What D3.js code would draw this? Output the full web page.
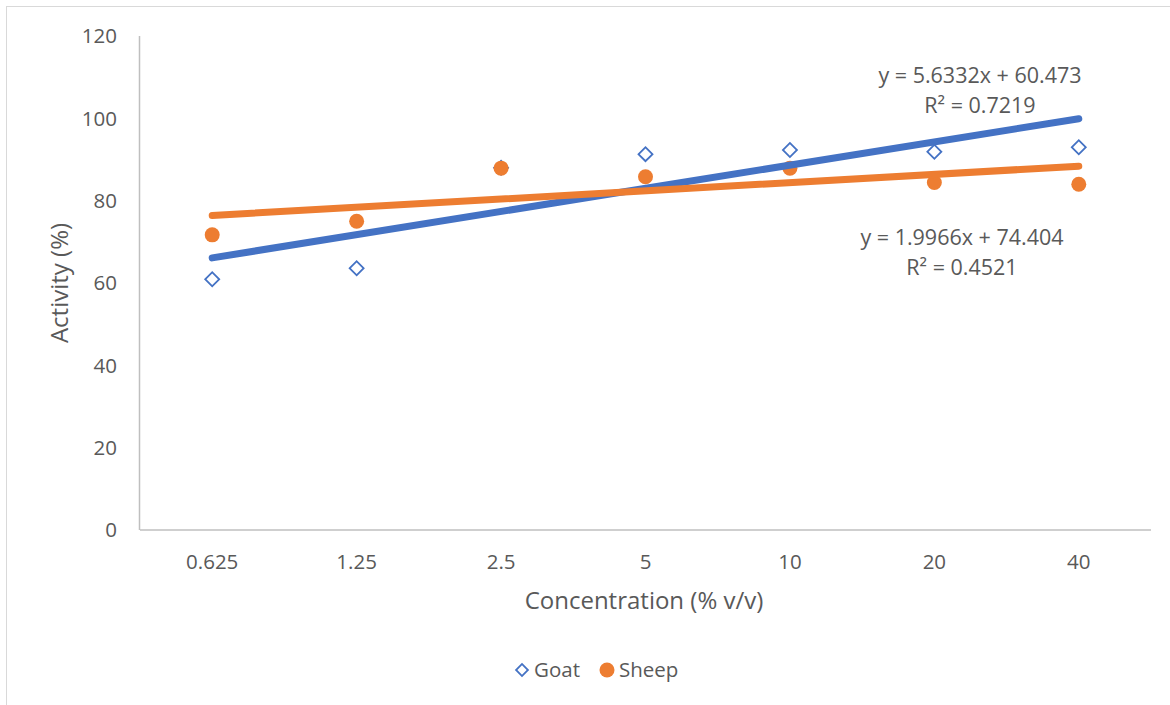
<!DOCTYPE html>
<html>
<head>
<meta charset="utf-8">
<script src="https://cdn.jsdelivr.net/npm/d3@7"></script>
<style>
  body { margin: 0; background: #fff; }
  svg text { font-family: "Open Sans", "Noto Sans", sans-serif; fill: #595959; }
</style>
</head>
<body>
<svg id="svg1" width="1170" height="705"></svg>
<script>
// data
var concentrations = ['0.625', '1.25', '2.5', '5', '10', '20', '40'];
var goat  = [60.9, 63.6, 88.0, 91.3, 92.3, 91.9, 93.0];
var sheep = [71.7, 75.0, 87.9, 85.8, 87.9, 84.4, 84.0];
var yTicks = [0, 20, 40, 60, 80, 100, 120];

// linear trendlines (x = category index 1..7), as shown on the chart
var goatTrend  = [5.6332, 60.473];
var sheepTrend = [1.9966, 74.404];
var goatLabel  = ['y = 5.6332x + 60.473', 'R\u00b2 = 0.7219'];
var sheepLabel = ['y = 1.9966x + 74.404', 'R\u00b2 = 0.4521'];

var blue = '#4472C4';
var orange = '#ED7D31';

var svg = d3.select('#svg1');

// outer chart border (only top/left fall inside the picture)
svg.append('rect')
    .attr('x', 6.5).attr('y', 6.5)
    .attr('width', 1200).attr('height', 800)
    .attr('fill', 'none')
    .attr('stroke', '#d9d9d9');

var x = d3.scaleBand()
    .domain(concentrations)
    .range([140, 1151]);

var y = d3.scaleLinear()
    .domain([0, 120])
    .range([530, 36]);

var cx = function(c) { return x(c) + x.bandwidth() / 2; };

// y axis line + labels
svg.append('line')
    .attr('x1', 139.5).attr('x2', 139.5)
    .attr('y1', y(120)).attr('y2', y(0))
    .attr('stroke', '#bfbfbf').attr('stroke-width', 1.5);

svg.selectAll('.ytick')
    .data(yTicks)
    .enter()
    .append('text')
    .attr('class', 'ytick')
    .attr('x', 117)
    .attr('y', function(d) { return y(d); })
    .attr('dy', '0.35em')
    .attr('text-anchor', 'end')
    .style('font-size', '20.5px')
    .text(function(d) { return d; });

// x axis line + labels
svg.append('line')
    .attr('x1', 140).attr('x2', 1151)
    .attr('y1', y(0)).attr('y2', y(0))
    .attr('stroke', '#bfbfbf').attr('stroke-width', 1.5);

svg.selectAll('.xtick')
    .data(concentrations)
    .enter()
    .append('text')
    .attr('class', 'xtick')
    .attr('x', function(d) { return cx(d); })
    .attr('y', 562)
    .attr('dy', '0.35em')
    .attr('text-anchor', 'middle')
    .style('font-size', '20.5px')
    .text(function(d) { return d; });

// axis titles
svg.append('text')
    .attr('transform', 'translate(60,283) rotate(-90)')
    .attr('text-anchor', 'middle')
    .attr('dy', '0.35em')
    .style('font-size', '24px')
    .text('Activity (%)');

svg.append('text')
    .attr('x', 644).attr('y', 601)
    .attr('dy', '0.35em')
    .attr('text-anchor', 'middle')
    .style('font-size', '24px')
    .text('Concentration (% v/v)');

// markers
var diamond = d3.symbol().type(d3.symbolSquare).size(98);

svg.selectAll('.goat')
    .data(goat)
    .enter()
    .append('path')
    .attr('class', 'goat')
    .attr('d', diamond)
    .attr('transform', function(d, i) {
        return 'translate(' + cx(concentrations[i]) + ',' + y(d) + ') rotate(45)';
    })
    .attr('fill', '#fff')
    .attr('stroke', blue)
    .attr('stroke-width', 1.8);

svg.selectAll('.sheep')
    .data(sheep)
    .enter()
    .append('circle')
    .attr('class', 'sheep')
    .attr('cx', function(d, i) { return cx(concentrations[i]); })
    .attr('cy', function(d) { return y(d); })
    .attr('r', 7.5)
    .attr('fill', orange);

// trendlines
function trend(coef, color) {
    var first = 1, last = concentrations.length;
    svg.append('line')
        .attr('x1', cx(concentrations[first - 1]))
        .attr('y1', y(coef[0] * first + coef[1]))
        .attr('x2', cx(concentrations[last - 1]))
        .attr('y2', y(coef[0] * last + coef[1]))
        .attr('stroke', color)
        .attr('stroke-width', 7)
        .attr('stroke-linecap', 'round');
}
trend(goatTrend, blue);
trend(sheepTrend, orange);

// equation labels
function eqLabel(lines, xc, y0) {
    svg.selectAll(null)
        .data(lines)
        .enter()
        .append('text')
        .attr('x', xc)
        .attr('y', function(d, i) { return y0 + i * 30; })
        .attr('text-anchor', 'middle')
        .style('font-size', '21.5px')
        .text(function(d) { return d; });
}
eqLabel(goatLabel, 980, 83);
eqLabel(sheepLabel, 962, 245);

// legend
var legend = svg.append('g');
legend.append('path')
    .attr('d', diamond.size(70))
    .attr('transform', 'translate(522,670) rotate(45)')
    .attr('fill', '#fff')
    .attr('stroke', blue)
    .attr('stroke-width', 1.8);
legend.append('text')
    .attr('x', 534).attr('y', 670)
    .attr('dy', '0.35em')
    .style('font-size', '20.5px')
    .text('Goat');
legend.append('circle')
    .attr('cx', 607).attr('cy', 670)
    .attr('r', 7.5)
    .attr('fill', orange);
legend.append('text')
    .attr('x', 619).attr('y', 670)
    .attr('dy', '0.35em')
    .style('font-size', '20.5px')
    .text('Sheep');
</script>
</body>
</html>
